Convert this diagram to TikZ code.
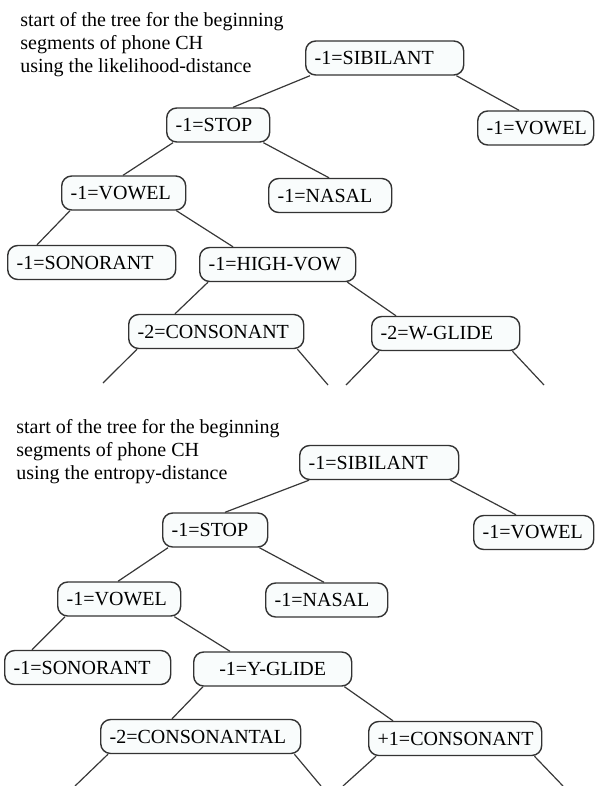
\documentclass[tikz,border=0pt]{standalone}
\usepackage{fontspec}
\setmainfont{Liberation Serif}
\exhyphenpenalty=10000
\hyphenpenalty=10000
\definecolor{boxline}{gray}{0.2}
\definecolor{boxfill}{rgb}{0.975,0.99,0.99}
\definecolor{edgeline}{gray}{0.22}
\tikzset{
  feat/.style={draw=boxline, fill=boxfill, line width=0.7pt, rounded corners=5pt,
    anchor=west, align=left, inner xsep=4.5pt, inner ysep=0pt, minimum height=17pt,
    font=\fontsize{10}{11.5}\selectfont},
  branch/.style={draw=edgeline, line width=0.6pt},
  caption/.style={anchor=base west, inner sep=0pt, font=\fontsize{10}{11.5}\selectfont}
}
\begin{document}
\begin{tikzpicture}[x=0.5pt, y=-0.5pt]
        \useasboundingbox (0,0) rectangle (596,786);

        % tree 1: likelihood-distance
        \node[caption] (capA1) at (20,27) {start of the tree for the beginning};
        \node[caption] (capA2) at (20,50) {segments of phone CH};
        \node[caption] (capA3) at (20,73) {using the likelihood-distance};

        \node[feat, text width=70pt]   (sibA)  at (305,58)    {-1=SIBILANT};   %
        \node[feat, text width=42.5pt] (stopA) at (166,125)   {-1=STOP};       %
        \node[feat, text width=49pt]   (vowrA) at (477,128)   {-1=VOWEL};      %
        \node[feat, text width=53pt]   (vowA)  at (61,193)    {-1=VOWEL};      %
        \node[feat, text width=52.5pt] (nasA)  at (268,195.5) {-1=NASAL};      %
        \node[feat, text width=75pt]   (sonA)  at (7,262.5)   {-1=SONORANT};   %
        \node[feat, text width=69pt]   (highA) at (199,264.5) {-1=HIGH-VOW};   %
        \node[feat, text width=78.5pt] (consA) at (128,331.5) {-2=CONSONANT};  %
        \node[feat, text width=65pt]   (wglA)  at (371,333.5) {-2=W-GLIDE};    %

        \draw[branch] ([xshift=2.5pt]sibA.south west)   -- ([xshift=33.5pt]stopA.north west);
        \draw[branch] ([xshift=-4pt]sibA.south east)    -- ([xshift=21pt]vowrA.north west);
        \draw[branch] ([xshift=3.5pt]stopA.south west)  -- ([xshift=31pt]vowA.north west);
        \draw[branch] ([xshift=-3.5pt]stopA.south east) -- ([xshift=30.5pt]nasA.north west);
        \draw[branch] ([xshift=4.5pt]vowA.south west)   -- ([xshift=15pt]sonA.north west);
        \draw[branch] ([xshift=-5pt]vowA.south east)    -- ([xshift=17pt]highA.north west);
        \draw[branch] ([xshift=4.5pt]highA.south west)  -- ([xshift=23.5pt]consA.north west);
        \draw[branch] ([xshift=-4.5pt]highA.south east) -- ([xshift=12.5pt]wglA.north west);

        \coordinate (cA1) at (103,383);
        \coordinate (cA2) at (328,385);
        \coordinate (cA3) at (346,385);
        \coordinate (cA4) at (544,385);
        \draw[branch] ([xshift=4.5pt]consA.south west)  -- (cA1);
        \draw[branch] ([xshift=-3.5pt]consA.south east) -- (cA2);
        \draw[branch] ([xshift=4pt]wglA.south west)     -- (cA3);
        \draw[branch] ([xshift=-4pt]wglA.south east)    -- (cA4);

        % tree 2: entropy-distance
        \node[caption] (capB1) at (16,433) {start of the tree for the beginning};
        \node[caption] (capB2) at (16,456) {segments of phone CH};
        \node[caption] (capB3) at (16,479) {using the entropy-distance};

        \node[feat, text width=70.5pt] (sibB)  at (299,462.5) {-1=SIBILANT};   %
        \node[feat, text width=43.5pt] (stopB) at (162,530)   {-1=STOP};       %
        \node[feat, text width=51pt]   (vowrB) at (473,532.5) {-1=VOWEL};      %
        \node[feat, text width=52.5pt] (vowB)  at (57,599)    {-1=VOWEL};      %
        \node[feat, text width=52pt]   (nasB)  at (265,600)   {-1=NASAL};      %
        \node[feat, text width=74pt]   (sonB)  at (4,667.5)   {-1=SONORANT};   %
        \node[feat, text width=70pt, align=center] (yglB) at (193,669) {-1=Y-GLIDE};
        \node[feat, text width=91pt]   (cnslB) at (100,736.5) {-2=CONSONANTAL};%
        \node[feat, text width=77.5pt] (consB) at (368,738.5) {+1=CONSONANT};  %

        \draw[branch] ([xshift=5pt]sibB.south west)     -- ([xshift=31.5pt]stopB.north west);
        \draw[branch] ([xshift=-4.5pt]sibB.south east)  -- ([xshift=21.5pt]vowrB.north west);
        \draw[branch] ([xshift=3pt]stopB.south west)    -- ([xshift=30.5pt]vowB.north west);
        \draw[branch] ([xshift=-4.5pt]stopB.south east) -- ([xshift=29.5pt]nasB.north west);
        \draw[branch] ([xshift=4pt]vowB.south west)     -- ([xshift=14pt]sonB.north west);
        \draw[branch] ([xshift=-3.5pt]vowB.south east)  -- ([xshift=18.5pt]yglB.north west);
        \draw[branch] ([xshift=5pt]yglB.south west)     -- ([xshift=36pt]cnslB.north west);
        \draw[branch] ([xshift=-4pt]yglB.south east)    -- ([xshift=12.5pt]consB.north west);

        \coordinate (cB1) at (75,786);
        \coordinate (cB2) at (321,786);
        \coordinate (cB3) at (343,786);
        \coordinate (cB4) at (563,786);
        \draw[branch] ([xshift=4pt]cnslB.south west)    -- (cB1);
        \draw[branch] ([xshift=-3.5pt]cnslB.south east) -- (cB2);
        \draw[branch] ([xshift=4pt]consB.south west)    -- (cB3);
        \draw[branch] ([xshift=-4pt]consB.south east)   -- (cB4);
\end{tikzpicture}
\end{document}
